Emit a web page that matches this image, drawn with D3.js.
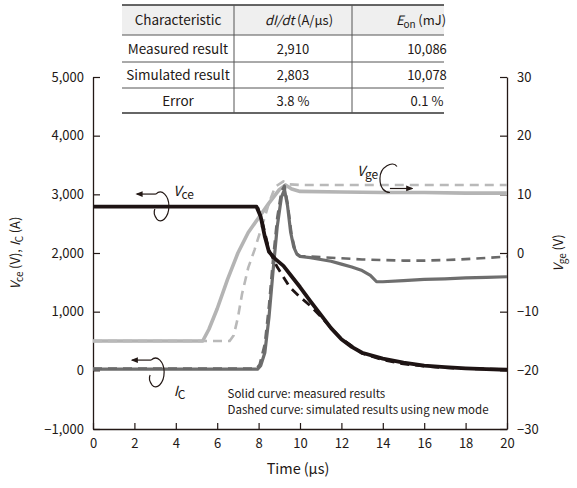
<!DOCTYPE html>
<html>
<head>
<meta charset="utf-8">
<script src="https://cdn.jsdelivr.net/npm/d3@7"></script>
<style>
  body { margin: 0; background: #fff; }
  svg text { font-family: "Noto Sans CJK JP", "Noto Sans", sans-serif; fill: #231815; }
</style>
</head>
<body>
<svg id="chart" width="577" height="488"></svg>
<script>
// time axis (µs)
var xTicks = [0, 2, 4, 6, 8, 10, 12, 14, 16, 18, 20];
var yLeftTicks = [-1000, 0, 1000, 2000, 3000, 4000, 5000];
var yRightTicks = [-30, -20, -10, 0, 10, 20, 30];

// Vce (V) - measured / simulated
var vceMeasured = [[0, 2790], [7.9, 2790], [8.1, 2620], [8.3, 2280], [8.5, 2020], [8.8, 1900], [9.2, 1780], [9.6, 1600],
  [10.0, 1420], [10.5, 1180], [11.0, 950], [11.5, 720], [12.0, 530], [12.5, 400], [13.0, 300], [14.0, 200],
  [15.0, 130], [16.0, 80], [17.0, 55], [18.0, 35], [19.0, 20], [20.0, 10]];
var vceSimulated = [[0, 2790], [7.95, 2790], [8.2, 2500], [8.5, 2050], [8.9, 1760], [9.5, 1420], [10.0, 1250],
  [10.5, 1100], [11.0, 920], [11.5, 720], [12.0, 540], [13.0, 290], [14.0, 180], [15.0, 110], [16.0, 70],
  [17.0, 45], [18.0, 30], [20.0, 15]];

// Ic (A) - measured / simulated
var icMeasured = [[0, 20], [7.95, 20], [8.1, 80], [8.3, 300], [8.5, 900], [8.7, 1700], [8.9, 2450], [9.1, 2950],
  [9.25, 3080], [9.4, 2800], [9.55, 2350], [9.7, 2100], [9.85, 1980], [10.0, 1940], [10.5, 1920], [11.0, 1890],
  [11.5, 1860], [12.0, 1810], [12.5, 1760], [13.0, 1700], [13.4, 1620], [13.7, 1510], [14.0, 1510],
  [15.0, 1530], [16.0, 1550], [17.0, 1560], [18.0, 1575], [19.0, 1585], [20.0, 1595]];
var icSimulated = [[0, 30], [7.9, 30], [8.05, 100], [8.3, 450], [8.5, 1100], [8.7, 1900], [8.9, 2600], [9.1, 3050],
  [9.25, 3150], [9.4, 2850], [9.6, 2300], [9.8, 2000], [10.0, 1950], [11.0, 1930], [12.0, 1910], [13.0, 1890],
  [14.0, 1880], [15.0, 1870], [16.0, 1870], [17.0, 1880], [18.0, 1895], [19.0, 1915], [20.0, 1940]];

// Vge (V) - measured / simulated
var vgeMeasured = [[0, -15], [5.3, -15], [5.6, -13], [6.0, -9.5], [6.5, -4.5], [7.0, 0], [7.5, 3.5], [8.0, 6],
  [8.5, 8.5], [9.0, 10.8], [9.3, 11.6], [9.6, 10.9], [10.0, 10.5], [12.0, 10.4], [14.0, 10.3], [16.0, 10.3],
  [18.0, 10.2], [20.0, 10.2]];
var vgeSimulated = [[0, -15], [6.6, -15], [6.8, -14], [7.0, -11], [7.2, -7], [7.5, -2.5], [7.8, 0.5], [8.2, 5],
  [8.5, 8.5], [8.8, 11.3], [9.2, 12.2], [9.5, 11.7], [10.0, 11.6], [20.0, 11.6]];

// table
var tableHeader = ["Characteristic", "dI/dt", "Eon"];
var tableRows = [
  ["Measured result", "2,910", "10,086"],
  ["Simulated result", "2,803", "10,078"],
  ["Error", "3.8 %", "0.1 %"]
];

var svg = d3.select("#chart");
var ink = "#231815";

var x = d3.scaleLinear().domain([0, 20]).range([93, 507]);
var yL = d3.scaleLinear().domain([-1000, 5000]).range([429, 77]);
var yR = d3.scaleLinear().domain([-30, 30]).range([429, 77]);

var fmtL = function (d) { return d3.format(",")(d).replace("-", "\u2212"); };
var fmtR = function (d) { return String(d).replace("-", "\u2212"); };

// axes
var gx = svg.append("g").attr("transform", "translate(0," + 429 + ")")
  .call(d3.axisBottom(x).tickValues(xTicks).tickSize(-6).tickSizeOuter(0).tickPadding(10));
var gl = svg.append("g").attr("transform", "translate(93,0)")
  .call(d3.axisLeft(yL).tickValues(yLeftTicks).tickSize(-7).tickSizeOuter(0).tickPadding(9).tickFormat(fmtL));
var gr = svg.append("g").attr("transform", "translate(507,0)")
  .call(d3.axisRight(yR).tickValues(yRightTicks).tickSize(-7).tickSizeOuter(0).tickPadding(10).tickFormat(fmtR));

[gx, gl, gr].forEach(function (g) {
  g.select(".domain").attr("stroke", ink).attr("stroke-width", 1.3);
  g.selectAll(".tick line").attr("stroke", ink).attr("stroke-width", 1.2);
  g.selectAll(".tick text").attr("fill", ink)
    .style("font-family", "'Noto Sans CJK JP', 'Noto Sans', sans-serif").style("font-size", "13px");
});

// lines
var lineL = d3.line().x(function (d) { return x(d[0]); }).y(function (d) { return yL(d[1]); });
var lineR = d3.line().x(function (d) { return x(d[0]); }).y(function (d) { return yR(d[1]); });

var series = [
  { data: vgeMeasured, line: lineR, color: "#b4b4b4", w: 3.6, dash: null },
  { data: vgeSimulated, line: lineR, color: "#b9b9b9", w: 2.6, dash: "9,6" },
  { data: icMeasured, line: lineL, color: "#6e6e6e", w: 3.2, dash: null },
  { data: icSimulated, line: lineL, color: "#6a6a6a", w: 2.6, dash: "9,6" },
  { data: vceMeasured, line: lineL, color: "#1e1414", w: 3.8, dash: null },
  { data: vceSimulated, line: lineL, color: "#1e1414", w: 2.8, dash: "9,6" }
];

series.forEach(function (s) {
  svg.append("path")
    .attr("fill", "none")
    .attr("stroke", s.color)
    .attr("stroke-width", s.w)
    .attr("stroke-linejoin", "round")
    .attr("stroke-dasharray", s.dash)
    .attr("d", s.line(s.data));
});

// arrow marker
svg.append("defs").append("marker")
  .attr("id", "arr").attr("viewBox", "0 0 10 10").attr("refX", 8).attr("refY", 5)
  .attr("markerWidth", 6).attr("markerHeight", 6).attr("orient", "auto")
  .append("path").attr("d", "M0,1 L10,5 L0,9 Z").attr("fill", ink);

// loop annotations (arrow says which axis the curve belongs to)
function loopLeft(cx, cy) {
  svg.append("path").attr("fill", "none").attr("stroke", ink).attr("stroke-width", 1.2)
    .attr("d", "M" + (cx - 5) + "," + (cy - 12) +
      " C" + (cx + 1) + "," + (cy - 18) + " " + (cx + 8) + "," + (cy - 10) + " " + (cx + 8) + "," + cy +
      " C" + (cx + 8) + "," + (cy + 12) + " " + (cx) + "," + (cy + 18) + " " + (cx - 4) + "," + (cy + 13) +
      " C" + (cx - 7) + "," + (cy + 9) + " " + (cx - 7) + "," + (cy + 5) + " " + (cx - 6) + "," + (cy + 3));
  svg.append("line").attr("stroke", ink).attr("stroke-width", 1.2)
    .attr("x1", cx - 5).attr("y1", cy - 12).attr("x2", cx - 24).attr("y2", cy - 12)
    .attr("marker-end", "url(#arr)");
}
function loopRight(cx, cy) {
  svg.append("path").attr("fill", "none").attr("stroke", ink).attr("stroke-width", 1.2)
    .attr("d", "M" + (cx + 10) + "," + (cy - 12) +
      " C" + (cx + 6) + "," + (cy - 18) + " " + (cx - 7) + "," + (cy - 12) + " " + (cx - 7) + "," + cy +
      " C" + (cx - 7) + "," + (cy + 10) + " " + (cx - 2) + "," + (cy + 14) + " " + (cx + 3) + "," + (cy + 14));
  svg.append("line").attr("stroke", ink).attr("stroke-width", 1.2)
    .attr("x1", cx + 3).attr("y1", cy + 10).attr("x2", cx + 25).attr("y2", cy + 10)
    .attr("marker-end", "url(#arr)");
}

function subLabel(px, py, main, sub, size) {
  var t = svg.append("text").attr("x", px).attr("y", py).style("font-size", size + "px");
  t.append("tspan").style("font-style", "italic").text(main);
  t.append("tspan").attr("dy", 3).style("font-size", (size - 2) + "px").text(sub);
  return t;
}

loopLeft(x(3.28), yL(2800));
subLabel(x(3.88), yL(2975), "V", "ce", 14);

loopLeft(x(3.05), yL(-30));
subLabel(x(3.9), yL(-430), "I", "C", 14);

loopRight(x(14.2), yR(12.7));
subLabel(x(12.75), yR(13.1), "V", "ge", 14);

// note
svg.append("text").attr("x", x(6.5)).attr("y", yL(-475)).style("font-size", "11.5px")
  .text("Solid curve: measured results");
svg.append("text").attr("x", x(6.5)).attr("y", yL(-750)).style("font-size", "11.5px")
  .text("Dashed curve: simulated results using new mode");

// axis titles
svg.append("text").attr("x", 298).attr("y", 474).attr("text-anchor", "middle").style("font-size", "14.5px")
  .text("Time\u2009(\u03bcs)");

var lt = svg.append("text").attr("transform", "translate(20,253) rotate(-90)")
  .attr("text-anchor", "middle").style("font-size", "13px");
lt.append("tspan").style("font-style", "italic").text("V");
lt.append("tspan").attr("dy", 3).style("font-size", "10px").text("ce");
lt.append("tspan").attr("dy", -3).text("\u2009(V), ");
lt.append("tspan").style("font-style", "italic").text("I");
lt.append("tspan").attr("dy", 3).style("font-size", "10px").text("C");
lt.append("tspan").attr("dy", -3).text("\u2009(A)");

var rt = svg.append("text").attr("transform", "translate(563,253) rotate(-90)")
  .attr("text-anchor", "middle").style("font-size", "13px");
rt.append("tspan").style("font-style", "italic").text("V");
rt.append("tspan").attr("dy", 3).style("font-size", "10px").text("ge");
rt.append("tspan").attr("dy", -3).text("\u2009(V)");

// table
var colEdges = [122, 234, 352, 444];
var rowEdges = [5, 35, 62, 88, 113];
var colCenters = [178, 293, 427];
var tg = svg.append("g");

tg.append("rect").attr("x", colEdges[0]).attr("y", rowEdges[0])
  .attr("width", colEdges[3] - colEdges[0]).attr("height", rowEdges[1] - rowEdges[0]).attr("fill", "#efefef");

rowEdges.forEach(function (ry, i) {
  tg.append("line").attr("x1", colEdges[0]).attr("x2", colEdges[3]).attr("y1", ry).attr("y2", ry)
    .attr("stroke", (i === 0 || i === rowEdges.length - 1) ? "#333" : "#555")
    .attr("stroke-width", (i === 0 || i === rowEdges.length - 1) ? 1.5 : 1);
});
[colEdges[1], colEdges[2]].forEach(function (cx) {
  tg.append("line").attr("x1", cx).attr("x2", cx).attr("y1", rowEdges[0]).attr("y2", rowEdges[4])
    .attr("stroke", "#555").attr("stroke-width", 1);
});

var hy = (rowEdges[0] + rowEdges[1]) / 2 + 5;
tg.append("text").attr("x", colCenters[0]).attr("y", hy).attr("text-anchor", "middle")
  .style("font-size", "13.5px").text(tableHeader[0]);
var h2 = tg.append("text").attr("x", colCenters[1] + 6).attr("y", hy).attr("text-anchor", "middle").style("font-size", "13px");
h2.append("tspan").style("font-style", "italic").text(tableHeader[1]);
h2.append("tspan").text("\u2009(A/\u03bcs)");
var h3 = tg.append("text").attr("x", colCenters[2] - 6).attr("y", hy).attr("text-anchor", "middle").style("font-size", "13px");
h3.append("tspan").style("font-style", "italic").text(tableHeader[2].charAt(0));
h3.append("tspan").attr("dy", 3).style("font-size", "10px").text(tableHeader[2].slice(1));
h3.append("tspan").attr("dy", -3).text("\u2009(mJ)");

tableRows.forEach(function (row, r) {
  var ty = (rowEdges[r + 1] + rowEdges[r + 2]) / 2 + 5;
  row.forEach(function (cell, c) {
    tg.append("text").attr("x", colCenters[c]).attr("y", ty).attr("text-anchor", "middle")
      .style("font-size", c === 0 ? "13.5px" : "13px").text(cell);
  });
});
</script>
</body>
</html>
